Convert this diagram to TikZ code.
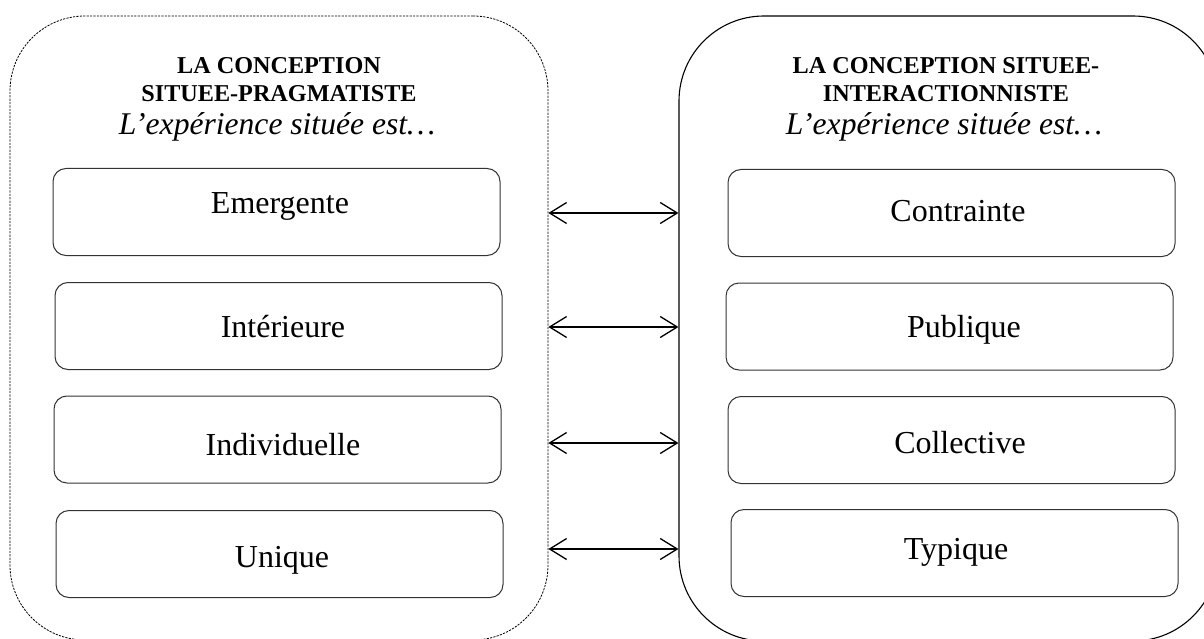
\documentclass[tikz,border=0pt]{standalone}
\usepackage{fontspec}
\setmainfont{Liberation Serif}
\usetikzlibrary{arrows.meta}
\begin{document}
\begin{tikzpicture}[x=1pt,y=-1pt,
  outerL/.style={draw=black,line width=0.8pt,dash pattern=on 2.2pt off 1.2pt,rounded corners=75pt,inner sep=0pt},
  outerR/.style={draw=black,line width=1.1pt,rounded corners=85pt,inner sep=0pt},
  ibox/.style={draw=black!80,line width=1pt,rounded corners=13pt,minimum width=447pt,minimum height=87pt,inner sep=0pt},
  itext/.style={anchor=base,inner sep=0pt,font=\fontsize{32}{36}\selectfont},
  ttl/.style={anchor=base,inner sep=0pt,font=\fontsize{24.2}{28}\selectfont\bfseries},
  itl/.style={anchor=base,inner sep=0pt,font=\fontsize{31.6}{34}\selectfont\itshape},
  link/.style={{Straight Barb[length=17pt,width=21pt]}-{Straight Barb[length=17pt,width=21pt]},line width=1.3pt}
]
\useasboundingbox (0,0) rectangle (1204,639);
% outer containers
\node[outerL,minimum width=538pt,minimum height=624pt] (L) at (279,328) {};
\node[outerR,minimum width=539pt,minimum height=625pt] (R) at (948.5,328.5) {};
% titles
\node[ttl] (tl1) at (279,74) {LA CONCEPTION};
\node[ttl] (tl2) at (279,102) {SITUEE-PRAGMATISTE};
\node[itl] (tl3) at (277,135) {L’expérience située est…};
\node[ttl] (tr1) at (946,74) {LA CONCEPTION SITUEE-};
\node[ttl] (tr2) at (946,102) {INTERACTIONNISTE};
\node[itl] (tr3) at (944,135) {L’expérience située est…};
% left boxes
\node[ibox] (l1) at (276.5,212) {};
\node[ibox] (l2) at (278.5,326) {};
\node[ibox] (l3) at (277.5,439.5) {};
\node[ibox] (l4) at (279.5,554) {};
\node[itext] (l1t) at (280,213) {Emergente};
\node[itext] (l2t) at (283,337) {Intérieure};
\node[itext] (l3t) at (283,455) {Individuelle};
\node[itext] (l4t) at (282,567) {Unique};
% right boxes
\node[ibox] (r1) at (951.5,213) {};
\node[ibox] (r2) at (949.5,326.5) {};
\node[ibox] (r3) at (951.5,440) {};
\node[ibox] (r4) at (954.5,553) {};
\node[itext] (r1t) at (958,222) {Contrainte};
\node[itext] (r2t) at (964,337) {Publique};
\node[itext] (r3t) at (960,453) {Collective};
\node[itext] (r4t) at (956,559) {Typique};
% connectors
\foreach \i/\yy in {1/213,2/327,3/443,4/549}{
  \coordinate (a\i) at (L.east |- 0,\yy);
  \coordinate (b\i) at (R.west |- 0,\yy);
  \draw[link] (a\i) -- (b\i);
}
\end{tikzpicture}
\end{document}
